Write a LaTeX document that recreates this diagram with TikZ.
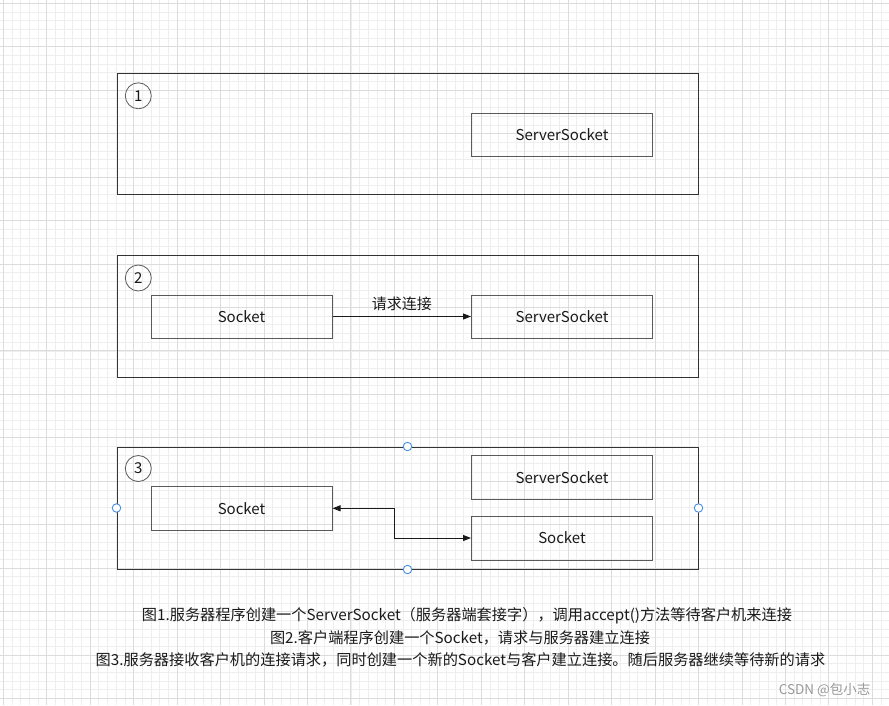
\documentclass[tikz,border=0pt]{standalone}
\usepackage{fontspec}
\setmainfont{Noto Sans CJK SC}
\usetikzlibrary{arrows.meta,calc}
\definecolor{gridminor}{HTML}{EEEEEE}
\definecolor{gridmajor}{HTML}{DCDCDC}
\definecolor{frameline}{HTML}{333333}
\definecolor{boxline}{HTML}{5A5A5A}
\definecolor{txt}{HTML}{1A1A1A}
\definecolor{handle}{HTML}{4A90E2}
\definecolor{wm}{HTML}{9A9A9A}
\begin{document}
\begin{tikzpicture}[x=1pt,y=-1pt,
  every node/.style={text=txt,font=\fontsize{15}{18}\selectfont},
  frame/.style={draw=frameline,line width=1pt,rectangle,minimum width=581pt,minimum height=121pt,inner sep=0pt},
  box/.style={draw=boxline,line width=1pt,rectangle,minimum width=181pt,minimum height=43pt,inner sep=0pt},
  numc/.style={draw=frameline!80,line width=0.8pt,circle,minimum size=26pt,inner sep=0pt},
  conn/.style={draw=txt,line width=1pt},
  tip/.style={-{Triangle[length=8pt,width=6pt]}},
  handlec/.style={draw=handle,fill=white,line width=0.9pt,circle,minimum size=8.5pt,inner sep=0pt},
  caption/.style={font=\fontsize{15.2}{18}\selectfont}
]
\useasboundingbox (0,0) rectangle (889,705);
\fill[white] (0,0) rectangle (889,705);
% grid
\foreach \i in {0,...,102} {\draw[gridminor,line width=0.8pt] ({3.3+\i*8.69},0) -- ({3.3+\i*8.69},705);}
\foreach \i in {0,...,81} {\draw[gridminor,line width=0.8pt] (0,{3.3+\i*8.69}) -- (889,{3.3+\i*8.69});}
\foreach \i in {0,...,20} {\draw[gridmajor,line width=0.9pt] ({3.3+\i*43.45},0) -- ({3.3+\i*43.45},705);}
\foreach \i in {0,...,16} {\draw[gridmajor,line width=0.9pt] (0,{3.3+\i*43.45}) -- (889,{3.3+\i*43.45});}

% frame 1
\node[frame] (f1) at (407.5,133.5) {};
\node[numc] (n1) at (138.3,95.8) {1};
\node[box] (ss1) at (562,134.5) {ServerSocket};

% frame 2
\node[frame,minimum height=122pt] (f2) at (407.5,316) {};
\node[numc] (n2) at (138.3,278) {2};
\node[box] (s2) at (241.5,316.5) {Socket};
\node[box] (ss2) at (562,316.5) {ServerSocket};
\draw[conn,tip] (s2) -- node[above=2pt] (lbl) {请求连接} (ss2);

% frame 3
\node[frame,minimum height=122pt] (f3) at (407.5,508) {};
\node[numc] (n3) at (138.3,468.5) {3};
\node[box,minimum height=44pt] (s3l) at (241.5,508.3) {Socket};
\node[box,minimum height=44pt] (ss3) at (562,477.2) {ServerSocket};
\node[box,minimum height=44pt] (s3r) at (562,538) {Socket};
\draw[conn,{Triangle[length=8pt,width=6pt]}-{Triangle[length=8pt,width=6pt]}] (s3l.east) -- ++(62,0) |- (s3r.west);

% selection handles
\node[handlec] (h1) at (f3.north) {};
\node[handlec] (h2) at (f3.south) {};
\node[handlec] (h3) at (f3.west) {};
\node[handlec] (h4) at (f3.east) {};

% captions
\node[caption] (c1) at (467,616) {图1.服务器程序创建一个ServerSocket（服务器端套接字），调用accept()方法等待客户机来连接};
\node[caption] (c2) at (460,637.5) {图2.客户端程序创建一个Socket，请求与服务器建立连接};
\node[caption] (c3) at (460.5,659.5) {图3.服务器接收客户机的连接请求，同时创建一个新的Socket与客户建立连接。随后服务器继续等待新的请求};

% watermark
\node[text=wm,font=\fontsize{13.5}{16}\selectfont,anchor=east] (wmk) at (874,690) {CSDN @包小志};
\end{tikzpicture}
\end{document}
